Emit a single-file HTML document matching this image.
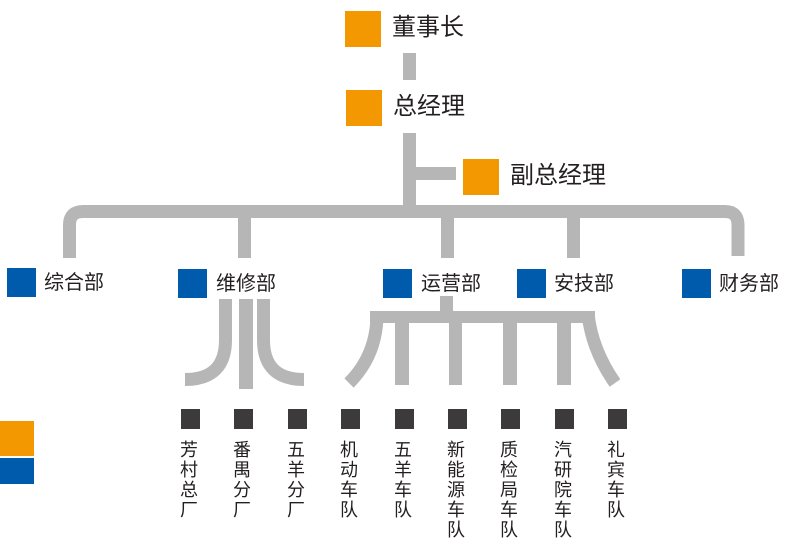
<!DOCTYPE html>
<html><head><meta charset="utf-8"><style>
body{margin:0;background:#fff;width:787px;height:545px;overflow:hidden;position:relative;font-family:"Liberation Sans","Noto Sans CJK SC",sans-serif;color:#231f20}
.a{position:absolute}
.o{background:#f39800}
.b{background:#005bac}
.d{background:#3d3a3b;width:19px;height:20px;top:409px}
.t{position:absolute;font-size:24px;line-height:1}
.s{position:absolute;font-size:20px;line-height:1}
.v{position:absolute;top:440px;width:20px;font-size:18px;line-height:20px;text-align:center;word-break:break-all}
</style></head><body>
<svg class="a" style="left:0;top:0" width="787" height="545">
<g fill="#b5b6b5">
<rect x="403" y="53" width="13" height="27"/>
<rect x="403" y="133" width="13" height="80"/>
<rect x="416" y="167" width="40" height="13"/>
<rect x="238" y="212" width="13" height="46"/>
<rect x="441" y="212" width="13" height="46"/>
<rect x="567" y="212" width="13" height="46"/>
<rect x="239" y="299" width="14" height="90"/>
<rect x="440" y="296" width="13" height="16"/>
<rect x="370" y="311" width="225" height="12"/>
<rect x="395" y="318" width="14" height="67"/>
<rect x="449" y="318" width="13" height="67"/>
<rect x="503" y="318" width="14" height="67"/>
<rect x="557" y="318" width="14" height="67"/>
</g>
<g fill="none" stroke="#b5b6b5" stroke-width="13">
<path d="M69.5 258 V225 Q69.5 211.5 83 211.5 H725 Q738 211.5 738 225 V256"/>
<path d="M225.5 299 V340 Q225.5 379.5 185 379.5"/>
<path d="M263.5 299 V340 Q263.5 379.5 304 379.5"/>
<path d="M377 314 Q377 355 349 383"/>
<path d="M588 314 Q592 350 615 383"/>
</g>
</svg>
<div class="a o" style="left:345px;top:11px;width:36px;height:36px"></div>
<div class="t" style="left:392px;top:16px">董事长</div>
<div class="a o" style="left:346px;top:90px;width:36px;height:36px"></div>
<div class="t" style="left:393px;top:95px">总经理</div>
<div class="a o" style="left:463px;top:159px;width:36px;height:36px"></div>
<div class="t" style="left:510px;top:164px">副总经理</div>

<div class="a b" style="left:7px;top:268px;width:29px;height:29px"></div><div class="s" style="left:44px;top:273px">综合部</div>
<div class="a b" style="left:178px;top:269px;width:29px;height:29px"></div><div class="s" style="left:216px;top:274px">维修部</div>
<div class="a b" style="left:383px;top:269px;width:29px;height:29px"></div><div class="s" style="left:421px;top:274px">运营部</div>
<div class="a b" style="left:517px;top:269px;width:29px;height:29px"></div><div class="s" style="left:554px;top:274px">安技部</div>
<div class="a b" style="left:682px;top:269px;width:29px;height:29px"></div><div class="s" style="left:719px;top:274px">财务部</div>

<div class="a d" style="left:181px"></div><div class="a d" style="left:234px"></div><div class="a d" style="left:288px"></div>
<div class="a d" style="left:341px"></div><div class="a d" style="left:395px"></div><div class="a d" style="left:448px"></div>
<div class="a d" style="left:501px"></div><div class="a d" style="left:555px"></div><div class="a d" style="left:608px"></div>

<div class="v" style="left:179px">芳村总厂</div>
<div class="v" style="left:232px">番禺分厂</div>
<div class="v" style="left:286px">五羊分厂</div>
<div class="v" style="left:339px">机动车队</div>
<div class="v" style="left:393px">五羊车队</div>
<div class="v" style="left:446px">新能源车队</div>
<div class="v" style="left:499px">质检局车队</div>
<div class="v" style="left:553px">汽研院车队</div>
<div class="v" style="left:606px">礼宾车队</div>

<div class="a o" style="left:0;top:421px;width:34px;height:35px"></div>
<div class="a b" style="left:0;top:458px;width:34px;height:26px"></div>
</body></html>
